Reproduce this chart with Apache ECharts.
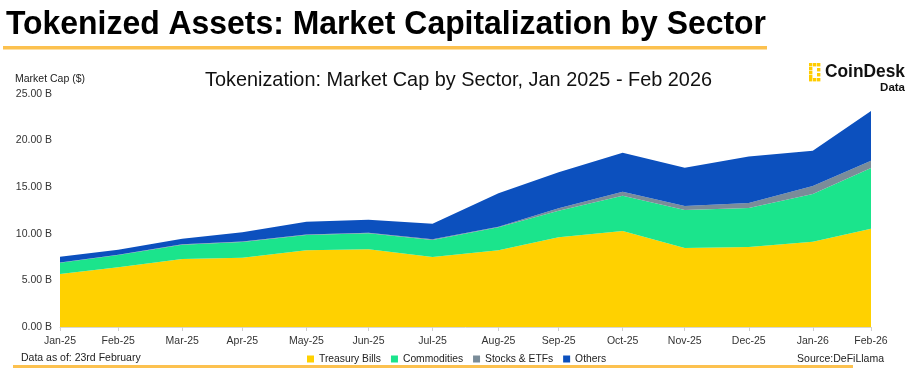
<!DOCTYPE html>
<html>
<head>
<meta charset="utf-8">
<script src="https://cdn.jsdelivr.net/npm/echarts@6/dist/echarts.min.js"></script>
<style>
html,body{margin:0;padding:0;background:#fff;}
#c{width:913px;height:372px;}
</style>
</head>
<body>
<div id="c"></div>
<script>
// ---- data (USD billions) ----
const dates = ['2025-01-01','2025-01-31','2025-03-05','2025-04-05','2025-05-08','2025-06-09','2025-07-12',
               '2025-08-15','2025-09-15','2025-10-18','2025-11-19','2025-12-22','2026-01-24','2026-02-23'];
const tickLabels = ['Jan-25','Feb-25','Mar-25','Apr-25','May-25','Jun-25','Jul-25',
                    'Aug-25','Sep-25','Oct-25','Nov-25','Dec-25','Jan-26','Feb-26'];
const treasuryBills = [5.69, 6.40, 7.30, 7.44, 8.23, 8.33, 7.51, 8.23, 9.62, 10.30, 8.48, 8.58, 9.15, 10.55];
const commodities   = [1.21, 1.32, 1.53, 1.68, 1.64, 1.72, 1.82, 2.47, 2.86, 3.79, 4.07, 4.19, 5.12, 6.51];
const stocksETFs    = [0.03, 0.03, 0.04, 0.05, 0.05, 0.06, 0.08, 0.06, 0.25, 0.43, 0.43, 0.53, 0.86, 0.78];
const others        = [0.61, 0.55, 0.60, 0.99, 1.38, 1.39, 1.67, 3.59, 3.87, 4.18, 4.12, 5.00, 3.77, 5.34];
const seriesNames = ['Treasury Bills','Commodities','Stocks & ETFs','Others'];
const yTicks = [0, 5, 10, 15, 20, 25];

// ---- build ----
const DAY = 86400000;
const t0 = Date.parse(dates[0] + 'T00:00:00Z');
const xs = dates.map(d => Math.round((Date.parse(d + 'T00:00:00Z') - t0) / DAY));
// value first so the stack is applied to the y dimension
const pair = arr => arr.map((v, i) => [v, xs[i]]);
const colors = ['#FFD100', '#1BE48C', '#7A8C99', '#0C50BE'];
const seriesData = [treasuryBills, commodities, stocksETFs, others];

function fitScale(text, font, targetW) {
  const ctx = document.createElement('canvas').getContext('2d');
  ctx.font = font;
  return targetW / ctx.measureText(text).width;
}
const FONT = '"Liberation Sans", Arial, Helvetica, sans-serif';
const titleText = 'Tokenized Assets: Market Capitalization by Sector';
const titleScale = fitScale(titleText, 'bold 34px ' + FONT, 760);
const subText = 'Tokenization: Market Cap by Sector, Jan 2025 - Feb 2026';
const subScale = fitScale(subText, '21px ' + FONT, 507);
const logoText = 'CoinDesk';
const logoScale = fitScale(logoText, 'bold 18px ' + FONT, 80);

const chart = echarts.init(document.getElementById('c'), null, {renderer: 'canvas'});

const logoSquares = [];
// stylised CoinDesk mark (decoration)
[[809,63],[813,63],[817,63],[809,67],[809,71],[809,75],[809,78],[813,78],[817,78],[817,68],[817,73]].forEach(p => {
  logoSquares.push({type:'rect', shape:{x:p[0], y:p[1], width:3.4, height:3.4}, style:{fill:'#FFCC00'}});
});

const option = {
  animation: false,
  backgroundColor: '#fff',
  textStyle: {fontFamily: FONT},
  grid: {left: 60, right: 42, top: 94, bottom: 45, containLabel: false},
  legend: {
    data: seriesNames,
    left: 'center',
    top: 349,
    icon: 'rect',
    itemWidth: 7,
    itemHeight: 7,
    itemGap: 10,
    textStyle: {fontSize: 10.3, color: '#222', fontFamily: FONT}
  },
  xAxis: {
    type: 'value',
    min: xs[0],
    max: xs[xs.length - 1],
    splitLine: {show: false},
    axisLine: {show: true, lineStyle: {color: '#d6d6d6', width: 1}},
    axisTick: {show: true, customValues: xs, length: 4, lineStyle: {color: '#cfcfcf'}},
    axisLabel: {
      customValues: xs,
      margin: 9,
      fontSize: 10.5,
      color: '#333',
      formatter: function (v) { const i = xs.indexOf(+v); return i >= 0 ? tickLabels[i] : ''; }
    }
  },
  yAxis: {
    type: 'value',
    min: yTicks[0],
    max: yTicks[yTicks.length - 1],
    interval: 5,
    splitLine: {show: false},
    axisLine: {show: false},
    axisTick: {show: false},
    axisLabel: {
      margin: 8,
      fontSize: 10.5,
      color: '#333',
      formatter: v => v.toFixed(2) + ' B'
    }
  },
  series: seriesNames.map((name, i) => ({
    name: name,
    type: 'line',
    stack: 'total',
    data: pair(seriesData[i]),
    encode: {x: 1, y: 0},
    symbol: 'none',
    smooth: false,
    lineStyle: {width: 0},
    areaStyle: {color: colors[i], opacity: 1},
    itemStyle: {color: colors[i]},
    emphasis: {disabled: true}
  })),
  graphic: [
    {type:'text', x: 6, y: 25, scaleX: titleScale, style:{text: titleText, font: 'bold 34px ' + FONT, fill:'#000', verticalAlign:'middle'}},
    {type:'rect', shape:{x:3, y:46, width:764, height:3.5}, style:{fill:'#FCC14F'}},
    {type:'text', x: 205, y: 80, scaleX: subScale, style:{text: subText, font: '21px ' + FONT, fill:'#111', verticalAlign:'middle'}},
    {type:'text', x: 15, y: 79, style:{text:'Market Cap ($)', font:'10.5px ' + FONT, fill:'#222', verticalAlign:'middle'}},
    {type:'text', x: 825, y: 72, scaleX: logoScale, style:{text: logoText, font:'bold 18px ' + FONT, fill:'#111', verticalAlign:'middle'}},
    {type:'text', x: 905, y: 88, style:{text:'Data', font:'bold 11.5px ' + FONT, fill:'#111', align:'right', verticalAlign:'middle'}},
    {type:'text', x: 21, y: 358, style:{text:'Data as of: 23rd February', font:'10.5px ' + FONT, fill:'#222', verticalAlign:'middle'}},
    {type:'text', x: 884, y: 359, style:{text:'Source:DeFiLlama', font:'10.5px ' + FONT, fill:'#222', align:'right', verticalAlign:'middle'}},
    {type:'rect', shape:{x:13, y:365, width:840, height:3}, style:{fill:'#FCC14F'}}
  ].concat(logoSquares)
};
chart.setOption(option);
</script>
</body>
</html>
